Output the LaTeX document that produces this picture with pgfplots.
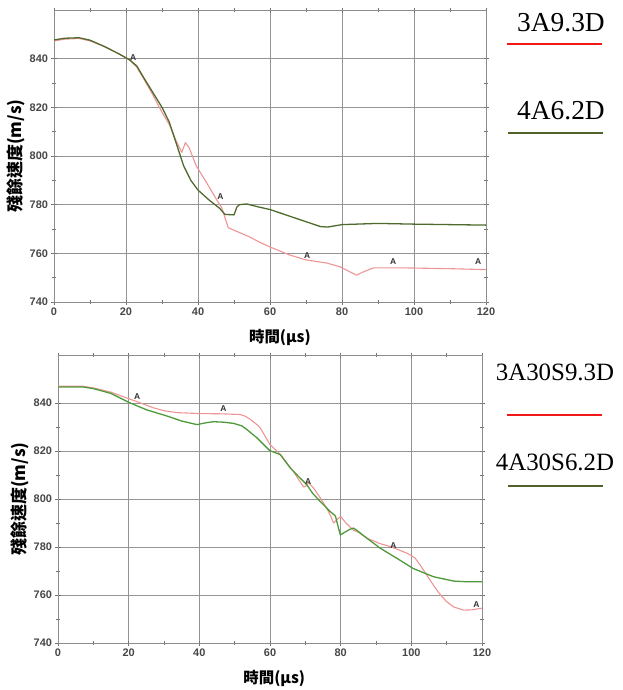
\documentclass[border=0pt]{standalone}
\usepackage{pgfplots}
\pgfplotsset{compat=1.18}
\usepackage{pgfplotstable}
\usepackage{fontspec}
\setmainfont{Liberation Serif}
\setsansfont{Liberation Sans}
\newfontfamily\cjk{Noto Sans CJK TC}
\definecolor{pinkc}{HTML}{EE9494}
\definecolor{olivec}{HTML}{4E6A2C}
\definecolor{greenc}{HTML}{4E9A38}
\definecolor{legred}{HTML}{F01818}
\definecolor{legolive}{HTML}{4F6228}

\pgfplotstableread{
x y
0 847.3
3 848.0
7 848.3
10 847.3
14 845
18 842
21 839.5
23 836.5
25 831.5
27.5 825
30 818
32 813
34 806
35.5 801.5
36.5 805.5
37.5 803.5
39.5 796
42.4 789
45.2 782
46.6 778.7
48.4 770.5
50 769.5
54.4 766.7
57.2 764.5
60 762.6
65.5 759.3
70 757.3
75.8 756
79.4 754.5
82.2 752.4
84 751
85.8 752.3
88.7 754
98 754
110 753.7
120 753.3
}\toppink

\pgfplotstableread{
x y
0 847.7
3 848.4
7 848.6
10 847.6
14 845
18 842
21 839.5
23 837
25 832
27.5 826
30 820
32 814
34 805
36 796
38 790
40 786
43 782
46 778.5
47.5 776
50 775.8
50.8 779
51.5 780
53.5 780.3
57 779
60 778
65 775.5
70 773
74 771
76 770.8
80 771.8
90 772.3
100 772
110 771.8
120 771.6
}\topgreen

\pgfplotstableread{
x y
0 847
7 847
10 846.3
15 844.5
20 841.8
23 840.2
27 838
30 836.8
33.6 836
40 835.6
46 835.5
51.6 835.2
53 834.5
54.4 833.2
56.3 831
57.2 829.7
60 822.7
63 818.5
66.6 811.5
69.5 805
70.2 805.5
70.9 806.8
72.3 804.6
74 801
76.1 796
77 793.5
78 790
79 791.5
80 792.7
81.5 790
83.6 787
85 786.2
87.4 783.7
91 781.5
94 780.2
98.8 777.4
101 775.5
102.5 772.5
104.5 768
106.3 764
108 760.5
110 757.2
112 755
114.8 753.7
117 753.8
119.5 754.4
120 754.5
}\botpink

\pgfplotstableread{
x y
0 846.7
7 846.7
10 846
15 844
20 840.3
25 837.2
30.8 834.6
35 832.5
39.3 831
42 831.8
44 832.2
47 832
49.7 831.5
52 830.5
53.4 829
56.3 825.5
59.9 820.2
62.9 818.5
65.7 813
68 809.5
70.4 806
72 802.5
74.2 799
77 794.8
78.5 793
79.9 785
81 786
82.5 787.3
83.6 787.9
84.5 787
87.4 783.7
91.2 779.5
95.9 775.3
100.6 771
106.3 767.6
112 765.8
116 765.5
120 765.5
}\botgreen

\tikzset{alab/.style={font=\sffamily\bfseries\fontsize{8.5}{9}\selectfont, text=black!80}}

\pgfplotsset{
  myax/.style={
    scale only axis,
    anchor=south west,
    xmin=0, xmax=120, ymin=740, ymax=860,
    xtick={0,20,...,120}, ytick={740,760,...,840},
    minor x tick num=1, minor y tick num=1,
    grid=major,
    major grid style={draw=black!42, line width=0.7pt},
    axis line style={draw=black!45, line width=0.9pt},
    tick style={draw=black!55, line width=0.6pt},
    tick align=center,
    major tick length=5bp, minor tick length=4bp,
    ticklabel style={font=\sffamily\bfseries\fontsize{11}{13}\selectfont, text=black!72},
    /pgf/number format/assume math mode=true,
    ylabel={\cjk\bfseries\fontsize{17}{19}\selectfont 殘餘速度(m/s)},
    xlabel={\cjk\bfseries\fontsize{15.5}{17}\selectfont 時間(μs)},
    every axis plot/.append style={line join=round, no markers},
  },
}

\begin{document}
\begin{tikzpicture}
\useasboundingbox (0,0) rectangle (623bp,-690bp);

\begin{axis}[myax,
  at={(54bp,-302bp)}, width=432bp, height=292bp,
  ylabel style={at={(axis description cs:-0.088,0.5)}, anchor=center},
  xlabel style={at={(axis description cs:0.523,-0.123)}, anchor=center},
]
\addplot[pinkc, line width=1.1pt] table[x=x,y=y] {\toppink};
\addplot[olivec, line width=1.3pt] table[x=x,y=y] {\topgreen};
\node[alab] at (axis cs:22,840.6) {A};
\node[alab] at (axis cs:46.2,783.5) {A};
\node[alab] at (axis cs:70.3,759.2) {A};
\node[alab] at (axis cs:94.2,756.8) {A};
\node[alab] at (axis cs:117.8,756.6) {A};
\end{axis}

\begin{axis}[myax,
  at={(58bp,-643bp)}, width=424bp, height=288bp,
  ylabel style={at={(axis description cs:-0.09,0.5)}, anchor=center},
  xlabel style={at={(axis description cs:0.51,-0.122)}, anchor=center},
]
\addplot[pinkc, line width=1.1pt] table[x=x,y=y] {\botpink};
\addplot[greenc, line width=1.3pt] table[x=x,y=y] {\botgreen};
\node[alab] at (axis cs:22.4,842.6) {A};
\node[alab] at (axis cs:46.8,837.6) {A};
\node[alab] at (axis cs:70.8,807.2) {A};
\node[alab] at (axis cs:94.9,780.6) {A};
\node[alab] at (axis cs:118.4,756.2) {A};
\end{axis}

% legends
\node[font=\fontsize{27.5}{30}\selectfont, inner sep=0pt] at (561bp,-23bp) {3A9.3D};
\draw[legred, line width=2bp] (507bp,-44bp) -- (602bp,-44bp);
\node[font=\fontsize{27.5}{30}\selectfont, inner sep=0pt] at (561bp,-111bp) {4A6.2D};
\draw[legolive, line width=2bp] (508bp,-133bp) -- (603bp,-133bp);

\node[font=\fontsize{25}{28}\selectfont, inner sep=0pt] at (555bp,-372bp) {3A30S9.3D};
\draw[legred, line width=2bp] (507bp,-415bp) -- (602bp,-415bp);
\node[font=\fontsize{25}{28}\selectfont, inner sep=0pt] at (555bp,-462bp) {4A30S6.2D};
\draw[legolive, line width=2bp] (508bp,-486bp) -- (603bp,-486bp);
\end{tikzpicture}
\end{document}
